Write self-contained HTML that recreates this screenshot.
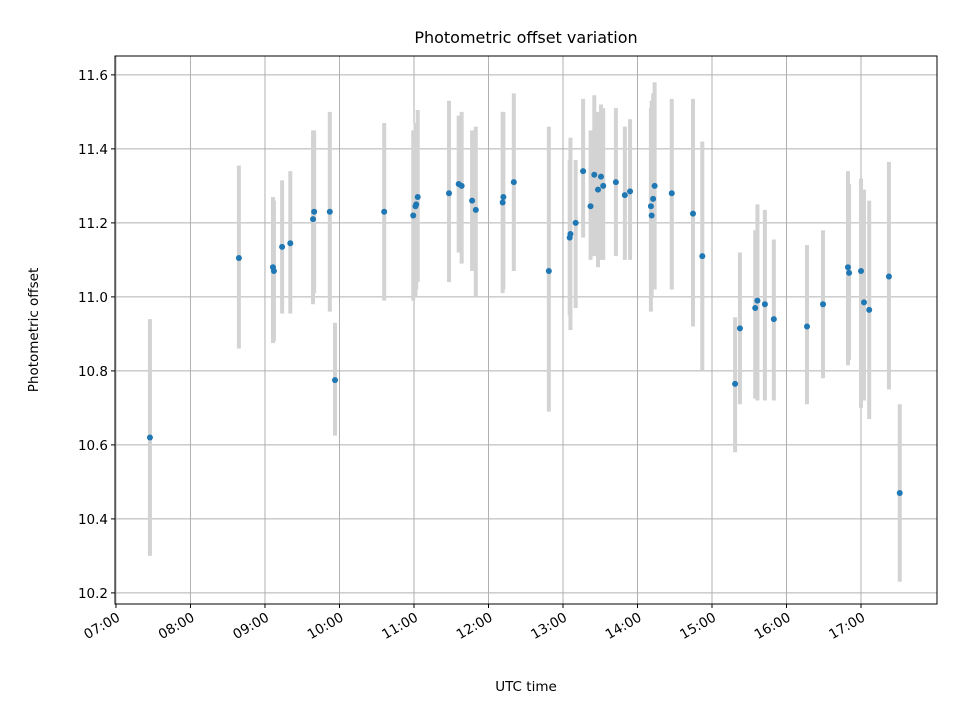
<!DOCTYPE html>
<html><head><meta charset="utf-8"><style>
body{margin:0;background:#fff;}
svg{font-family:"DejaVu Sans","Liberation Sans",sans-serif;}
</style></head><body>
<svg id="chart" width="960" height="720" viewBox="0 0 960 720" xmlns="http://www.w3.org/2000/svg">
<rect width="960" height="720" fill="#fff"/>
<text x="526" y="43" font-size="16" text-anchor="middle">Photometric offset variation</text>
<text x="526" y="691" font-size="13.5" text-anchor="middle">UTC time</text>
<text transform="translate(38,330) rotate(-90)" font-size="13.5" text-anchor="middle">Photometric offset</text>
<g id="grid"></g><g id="errs"></g><g id="pts"></g><g id="axes"></g>
</svg>
<script>
const times=[7.456,8.65,9.107,9.12,9.23,9.34,9.645,9.66,9.87,9.94,10.6,10.99,11.02,11.03,11.05,11.47,11.6,11.64,11.78,11.83,12.19,12.2,12.34,12.81,13.09,13.1,13.17,13.27,13.37,13.42,13.47,13.51,13.54,13.71,13.83,13.9,14.18,14.19,14.21,14.23,14.46,14.745,14.87,15.31,15.375,15.58,15.61,15.71,15.83,16.275,16.49,16.825,16.84,17.0,17.04,17.11,17.375,17.52];
const values=[10.62,11.105,11.08,11.07,11.135,11.145,11.21,11.23,11.23,10.775,11.23,11.22,11.245,11.25,11.27,11.28,11.305,11.3,11.26,11.235,11.255,11.27,11.31,11.07,11.16,11.17,11.2,11.34,11.245,11.33,11.29,11.325,11.3,11.31,11.275,11.285,11.245,11.22,11.265,11.3,11.28,11.225,11.11,10.765,10.915,10.97,10.99,10.98,10.94,10.92,10.98,11.08,11.065,11.07,10.985,10.965,11.055,10.47];
const lows=[10.30,10.86,10.875,10.88,10.955,10.955,10.98,11.01,10.96,10.625,10.99,10.99,11.0,11.02,11.04,11.04,11.12,11.09,11.07,11.0,11.01,11.02,11.07,10.69,10.95,10.91,10.97,11.16,11.1,11.11,11.08,11.1,11.1,11.11,11.1,11.1,10.96,11.0,11.02,11.02,11.02,10.92,10.8,10.58,10.71,10.725,10.72,10.72,10.72,10.71,10.78,10.815,10.83,10.7,10.72,10.67,10.75,10.23];
const highs=[10.94,11.355,11.27,11.26,11.315,11.34,11.45,11.45,11.5,10.93,11.47,11.45,11.47,11.47,11.505,11.53,11.49,11.5,11.45,11.46,11.5,11.5,11.55,11.46,11.37,11.43,11.37,11.535,11.45,11.545,11.5,11.52,11.51,11.51,11.46,11.48,11.51,11.53,11.55,11.58,11.535,11.535,11.42,10.945,11.12,11.18,11.25,11.235,11.155,11.14,11.18,11.34,11.305,11.32,11.29,11.26,11.365,10.71];
const yTicks=[10.2,10.4,10.6,10.8,11.0,11.2,11.4,11.6];
const xTicks=[7,8,9,10,11,12,13,14,15,16,17];
const xTickLabels=["07:00","08:00","09:00","10:00","11:00","12:00","13:00","14:00","15:00","16:00","17:00"];
const L=115,R=937,T=56,B=604,xmin=6.987,xmax=18.02,ymin=10.170,ymax=11.651;
const sx=h=>L+(h-xmin)/(xmax-xmin)*(R-L);
const sy=v=>B-(v-ymin)/(ymax-ymin)*(B-T);
const NS="http://www.w3.org/2000/svg";
function mk(tag,parent,attrs){const e=document.createElementNS(NS,tag);for(const k in attrs)e.setAttribute(k,attrs[k]);document.getElementById(parent).appendChild(e);return e;}
xTicks.forEach((t,i)=>{
 const x=sx(t);
 const g=mk('line','grid',{x1:x,x2:x,y1:T,y2:B,stroke:'#b0b0b0','stroke-width':1});
 
 
 const tk=mk('line','axes',{x1:x,x2:x,y1:B,y2:B+4,stroke:'#000'});
 
 
 const lb=mk('text','axes',{transform:`translate(${x+5},${B+16}) rotate(-30)`,'font-size':13.5,'text-anchor':'end'});
 lb.textContent=xTickLabels[i];
 
 
});
yTicks.forEach(v=>{
 const y=sy(v);
 const g=mk('line','grid',{x1:L,x2:R,y1:y,y2:y,stroke:'#b0b0b0','stroke-width':1});
 
 
 const tk=mk('line','axes',{x1:L-4,x2:L,y1:y,y2:y,stroke:'#000'});
 
 
 const lb=mk('text','axes',{x:L-7,y:y+5,'font-size':13.5,'text-anchor':'end'});
 lb.textContent=v.toFixed(1);
 
 
});
const fr=mk('rect','axes',{x:L,y:T,width:R-L,height:B-T,fill:'none',stroke:'#000','stroke-width':1});


times.forEach((t,i)=>{
 const x=sx(t);
 const e=mk('line','errs',{x1:x,x2:x,y1:sy(lows[i]),y2:sy(highs[i]),stroke:'#d3d3d3','stroke-width':4});
 
 
 const c=mk('circle','pts',{cx:x,cy:sy(values[i]),r:3,fill:'#1f77b4'});
 
 
});
</script>
</body></html>
